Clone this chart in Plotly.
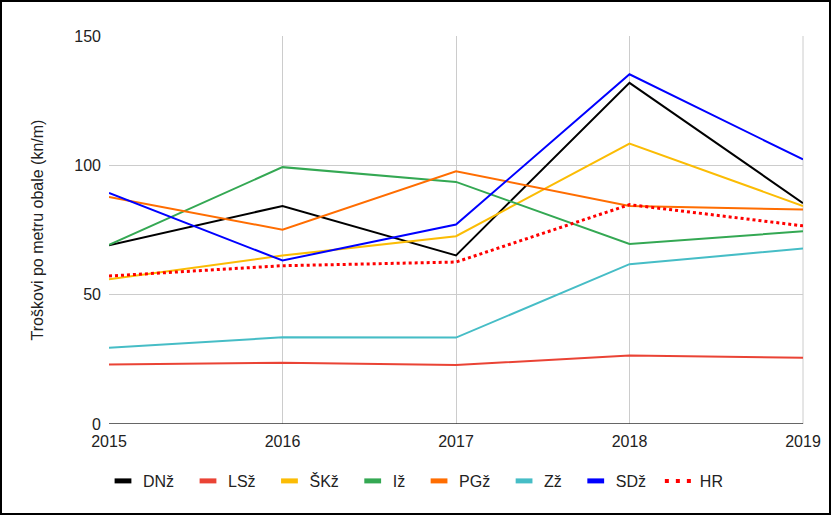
import plotly.graph_objects as go

years = [2015, 2016, 2017, 2018, 2019]
dnz = [69.1, 84.3, 65.2, 131.9, 85.4]
lsz = [23.0, 23.7, 22.8, 26.5, 25.6]
skz = [56.0, 65.1, 72.6, 108.4, 84.3]
iz = [69.3, 99.3, 93.6, 69.6, 74.5]
pgz = [87.8, 75.1, 97.7, 84.3, 82.9]
zz = [29.5, 33.5, 33.4, 61.8, 67.8]
sdz = [89.3, 63.2, 77.1, 135.2, 102.3]
hr = [57.2, 61.2, 62.6, 84.8, 76.6]

series = [
    ("DNž", dnz, "#000000", "solid", 2),
    ("LSž", lsz, "#ea4335", "solid", 2),
    ("ŠKž", skz, "#fbbc04", "solid", 2),
    ("Iž", iz, "#34a853", "solid", 2),
    ("PGž", pgz, "#ff6d01", "solid", 2),
    ("Zž", zz, "#46bdc6", "solid", 2),
    ("SDž", sdz, "#0000ff", "solid", 2),
    ("HR", hr, "#ff0000", "dot", 3),
]

fig = go.Figure()
for name, vals, color, dash, w in series:
    fig.add_trace(go.Scatter(x=years, y=vals, name=name, mode="lines", showlegend=False,
                             line=dict(color=color, width=w, dash=dash)))
# legend entries styled like the original (short thick bars, dotted for HR)
pad = "\u00a0\u00a0"
for name, vals, color, dash, w in series:
    if dash == "solid":
        fig.add_trace(go.Scatter(x=[None], y=[None], name=name + pad, mode="markers",
                                 marker=dict(symbol="line-ew", size=12,
                                             line=dict(color=color, width=5))))
    else:
        fig.add_trace(go.Scatter(x=[None], y=[None], name=name, mode="lines",
                                 line=dict(color=color, width=4, dash="4px,7px")))

W, H = 831, 515
l, r, t, b = 109, 28, 36, 91
pw, ph = W - l - r, H - t - b

fig.update_layout(
    width=W, height=H,
    margin=dict(l=l, r=r, t=t, b=b, autoexpand=False),
    paper_bgcolor="white", plot_bgcolor="white",
    font=dict(family="Liberation Sans, Arial, sans-serif", size=16, color="#222222"),
    showlegend=True,
    legend=dict(orientation="h", x=(W / 2 - l) / pw, xanchor="center",
                y=-(481 - 424) / ph, yanchor="middle",
                font=dict(size=16, color="#222222"), itemwidth=30, tracegroupgap=0),
    xaxis=dict(range=[2015, 2019], tickvals=years, ticktext=[str(y) for y in years],
               showgrid=True, gridcolor="#cccccc", gridwidth=1, zeroline=False,
               showline=False, ticks="", ticklabelstandoff=6),
    yaxis=dict(range=[0, 150], tickvals=[0, 50, 100, 150], showgrid=True,
               gridcolor="#cccccc", gridwidth=1, zeroline=False, showline=False,
               ticks="", ticklabelstandoff=7,
               title=dict(text="Troškovi po metru obale (kn/m)", standoff=26,
                          font=dict(size=16, color="#222222"))),
    shapes=[
        dict(type="line", xref="paper", yref="y", x0=0, x1=1, y0=0, y1=0,
             line=dict(color="#333333", width=1.5), layer="above"),
        dict(type="line", xref="paper", yref="paper", x0=1, x1=1, y0=0, y1=1,
             line=dict(color="#cccccc", width=1), layer="below"),
        dict(type="rect", xref="paper", yref="paper",
             x0=(-l + 1) / pw, x1=1 + (r - 1) / pw,
             y0=(-b + 1) / ph, y1=1 + (t - 1) / ph,
             line=dict(color="#000000", width=2), fillcolor="rgba(0,0,0,0)"),
    ],
)

fig.write_html("out.html", config={"displayModeBar": False})

with open("out.html", "r", encoding="utf-8") as f:
    html = f.read()
html = html.replace("<body>", '<body style="margin:0;padding:0;overflow:hidden;">', 1)
html = html.replace("<head>", "<head><style>html,body{margin:0;padding:0;}</style>", 1)
with open("out.html", "w", encoding="utf-8") as f:
    f.write(html)
